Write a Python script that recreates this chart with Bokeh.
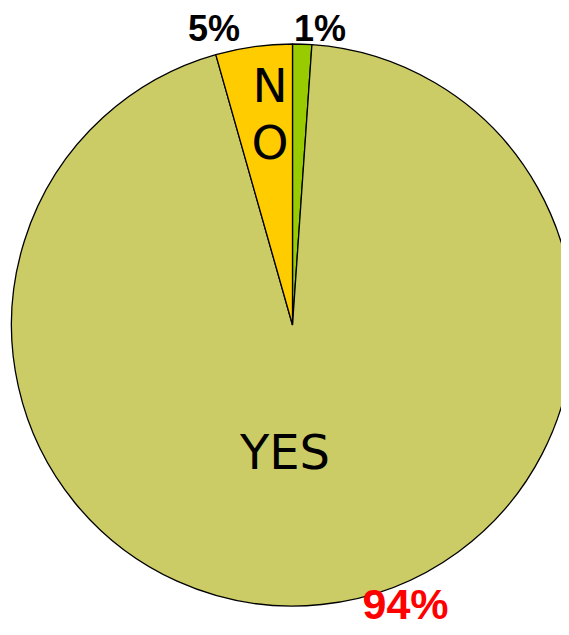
import numpy as np
from bokeh.plotting import figure
from bokeh.models import Range1d, ColumnDataSource
from bokeh.core.properties import value
from bokeh.embed import file_html
from bokeh.resources import INLINE

# Data (clockwise from 12 o'clock)
categories = ["Other", "YES", "NO"]
shares = [1.1, 94.5, 4.4]          # slice sizes (%)
colors = ["#99CC00", "#CCCC66", "#FFCC00"]
pct_labels = ["1%", "94%", "5%"]
pct_colors = ["black", "red", "black"]

W, H = 561, 627
p = figure(width=W, height=H, output_backend="svg", toolbar_location=None,
           x_range=Range1d(0, W), y_range=Range1d(0, H),
           min_border=0, outline_line_color=None)
p.axis.visible = False
p.grid.visible = False
p.background_fill_color = "white"
p.border_fill_color = "white"

cx, cy, r = 292, 302.5, 281
frac = np.array(shares) / sum(shares)
cum = np.concatenate([[0], np.cumsum(frac)])
start = np.pi / 2 - cum[:-1] * 2 * np.pi
end = np.pi / 2 - cum[1:] * 2 * np.pi

src = ColumnDataSource(dict(start=start, end=end, color=colors, cat=categories))
p.wedge(x=cx, y=cy, radius=r, start_angle="start", end_angle="end",
        direction="clock", fill_color="color", line_color="black",
        line_width=1.3, source=src)

# percentage labels
lab_x = [319.5, 405, 213.5]
lab_y = [599.5, 24, 599.5]
lab_size = ["36px", "43px", "36px"]
for t, c, x, y, s in zip(pct_labels, pct_colors, lab_x, lab_y, lab_size):
    p.text(x=[x], y=[y], text=[t], text_color=c, text_font=value("Liberation Sans"),
           text_font_style="bold", text_font_size=s, text_align="center",
           text_baseline="middle")

# category labels inside slices
p.text(x=[284.5], y=[175.5], text=["YES"], text_font=value("DejaVu Sans"),
       text_font_size="48px", text_align="center", text_baseline="middle",
       text_color="black")
p.text(x=[269.5, 269.5], y=[542.3, 485], text=["N", "O"], text_font=value("DejaVu Sans"),
       text_font_size="47px", text_align="center", text_baseline="middle",
       text_color="black")

open("out.html", "w").write(file_html(p, INLINE))
